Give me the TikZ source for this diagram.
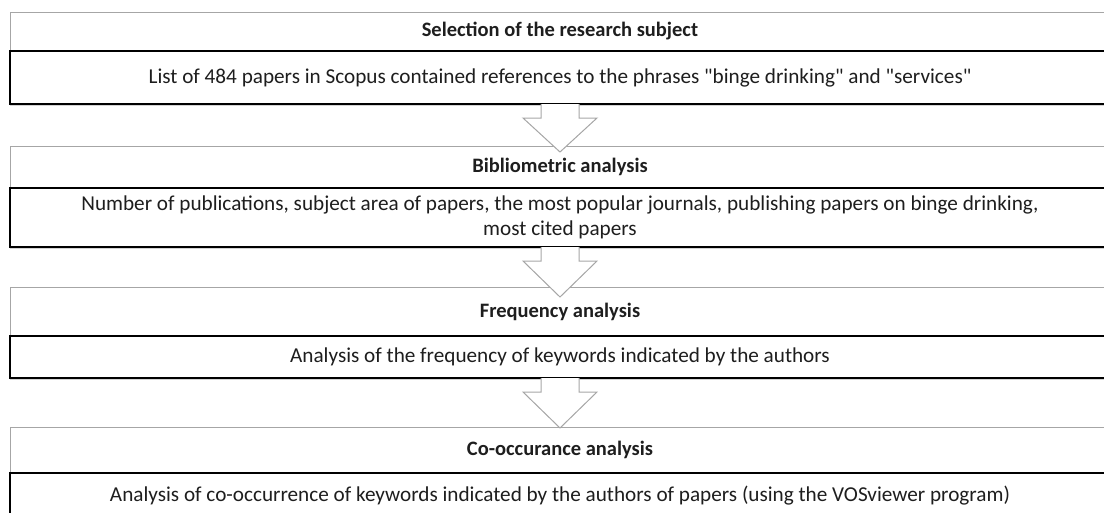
\documentclass[tikz,border=0pt]{standalone}
\usepackage{fontspec}
\setmainfont{Carlito}
\usetikzlibrary{positioning,calc,shadows}

\definecolor{headgray}{RGB}{166,166,166}
\definecolor{textgray}{RGB}{30,30,30}

\tikzset{
  head/.style={draw=headgray, line width=1pt, fill=white, minimum width=1100pt,
    inner sep=0pt, outer sep=0pt, text=textgray,
    font=\bfseries\fontsize{20.5}{24}\selectfont},
  body/.style={draw=black, line width=1.3pt, fill=white, minimum width=1100pt,
    inner sep=0pt, outer sep=0pt, align=center, text=textgray,
    font=\fontsize{21.2}{24.5}\selectfont,
    drop shadow={shadow xshift=0pt, shadow yshift=-2pt, opacity=.35}},
  blockarrow/.style={draw=headgray, line width=1pt, fill=white, line join=miter}
}

\begin{document}
\begin{tikzpicture}[x=1pt, y=1pt]
    \useasboundingbox (0,0) rectangle (1104,-512);

    \node[head, minimum height=39pt, anchor=north west] at (10,-12) (h1){Selection of the research subject};
    \node[body, minimum height=53pt, below=0pt of h1] (c1){List of 484 papers in Scopus contained references to the phrases \textquotedbl binge drinking\textquotedbl{} and \textquotedbl services\textquotedbl};

    \node[head, minimum height=42pt, anchor=north west] at (10,-146) (h2){Bibliometric analysis};
    \node[body, minimum height=59pt, below=0pt of h2] (c2){Number of publications, subject area of papers, the most popular journals, publishing papers on binge drinking,\\most cited papers};

    \node[head, minimum height=49pt, anchor=north west] at (10,-287) (h3){Frequency analysis};
    \node[body, minimum height=42pt, below=0pt of h3] (c3){Analysis of the frequency of keywords indicated by the authors};

    \node[head, minimum height=46pt, anchor=north west] at (10,-427) (h4){Co-occurance analysis};
    \node[body, minimum height=46pt, below=0pt of h4] (c4){\raisebox{3pt}{Analysis of co-occurrence of keywords indicated by the authors of papers (using the VOSviewer program)}};

    % block arrows between the steps
    \draw[blockarrow] ($(c1.south)+(-19,0)$) -- ++(0,-14) -- ++(-18,0) -- ($(h2.north)+(0,-6)$)
        -- ($(c1.south)+(37,-14)$) -- ++(-18,0) -- ($(c1.south)+(19,0)$);
    \draw[blockarrow] ($(c2.south)+(-19,0)$) -- ++(0,-14) -- ++(-18,0) -- ($(h3.north)+(0,-10)$)
        -- ($(c2.south)+(37,-14)$) -- ++(-18,0) -- ($(c2.south)+(19,0)$);
    \draw[blockarrow] ($(c3.south)+(-19,0)$) -- ++(0,-14) -- ++(-18,0) -- ($(h4.north)+(0,-1)$)
        -- ($(c3.south)+(37,-14)$) -- ++(-18,0) -- ($(c3.south)+(19,0)$);
\end{tikzpicture}
\end{document}
